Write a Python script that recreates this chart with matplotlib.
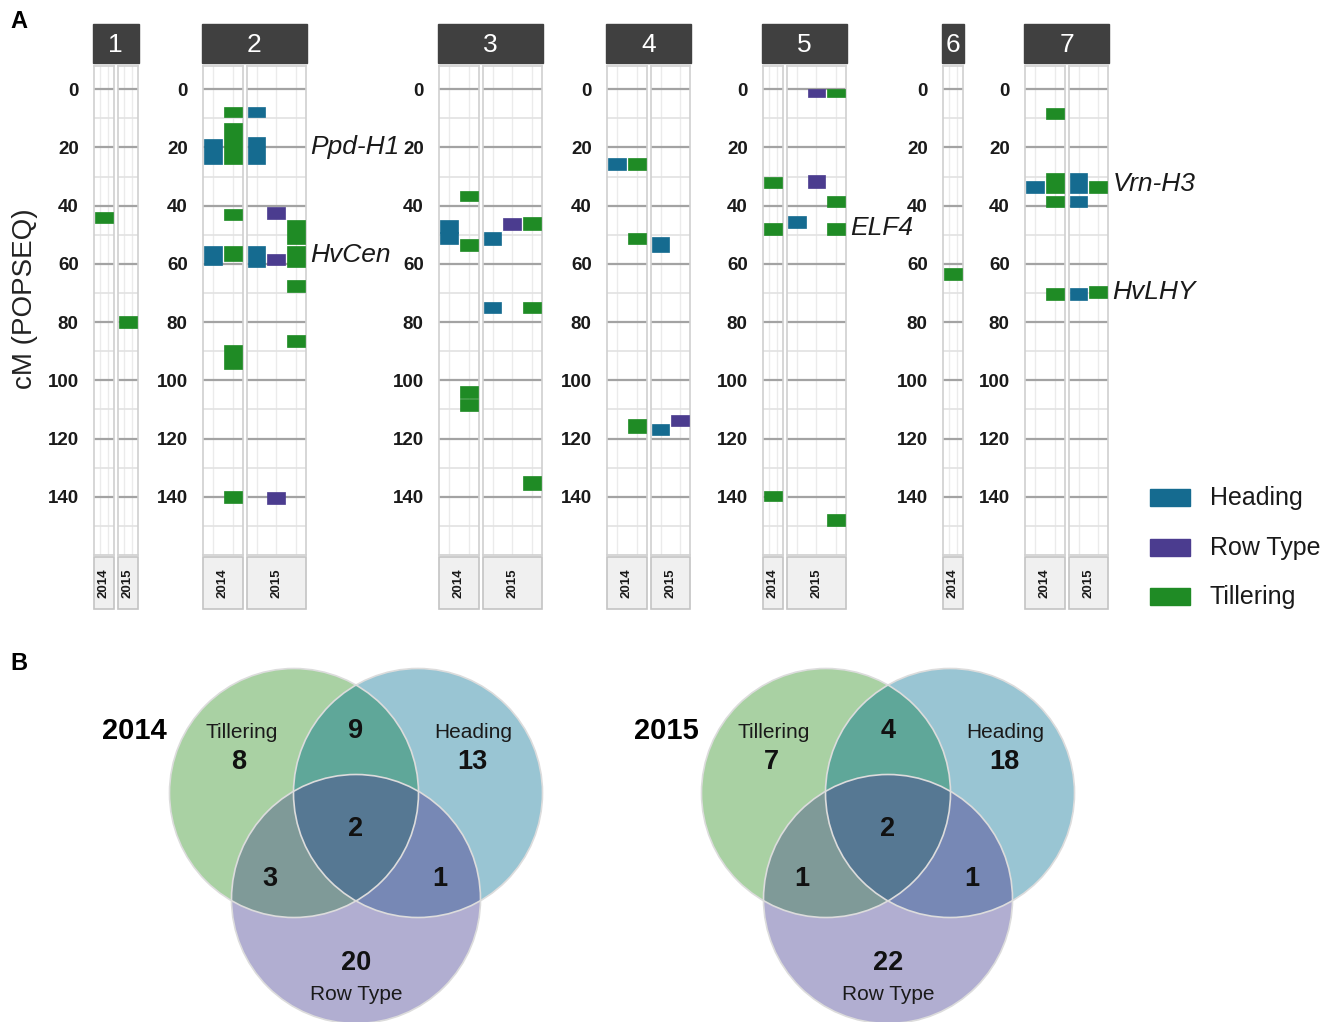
"""
QTL map per chromosome (2014 / 2015) and Venn summary of trait overlaps.
"""

import numpy as np
import matplotlib
matplotlib.use("Agg")
import matplotlib.pyplot as plt
from matplotlib.patches import Rectangle, Circle, Polygon

plt.rcParams['font.family'] = ['Liberation Sans', 'DejaVu Sans']

# ---- QTL intervals (cM, POPSEQ) ----
traits = ["Heading", "Row Type", "Tillering"]
trait_colors = {"Heading": "#156b90", "Row Type": "#4b3c8f", "Tillering": "#1f8b25"}

qtl_chrom = [1, 1,
             2, 2, 2, 2, 2, 2, 2, 2,
             2, 2, 2, 2, 2, 2, 2, 2, 2, 2,
             3, 3, 3, 3, 3, 3,
             3, 3, 3, 3, 3, 3,
             4, 4, 4, 4,
             4, 4, 4,
             5, 5, 5,
             5, 5, 5, 5, 5, 5, 5,
             6,
             7, 7, 7, 7, 7,
             7, 7, 7, 7, 7]
qtl_year = [2014, 2015,
            2014, 2014, 2014, 2014, 2014, 2014, 2014, 2014,
            2015, 2015, 2015, 2015, 2015, 2015, 2015, 2015, 2015, 2015,
            2014, 2014, 2014, 2014, 2014, 2014,
            2015, 2015, 2015, 2015, 2015, 2015,
            2014, 2014, 2014, 2014,
            2015, 2015, 2015,
            2014, 2014, 2014,
            2015, 2015, 2015, 2015, 2015, 2015, 2015,
            2014,
            2014, 2014, 2014, 2014, 2014,
            2015, 2015, 2015, 2015, 2015]
qtl_trait = ["Tillering", "Tillering",
             "Heading", "Heading", "Tillering", "Tillering", "Tillering", "Tillering", "Tillering", "Tillering",
             "Heading", "Heading", "Heading", "Row Type", "Row Type", "Row Type",
             "Tillering", "Tillering", "Tillering", "Tillering",
             "Heading", "Heading", "Tillering", "Tillering", "Tillering", "Tillering",
             "Heading", "Heading", "Row Type", "Tillering", "Tillering", "Tillering",
             "Heading", "Tillering", "Tillering", "Tillering",
             "Heading", "Heading", "Row Type",
             "Tillering", "Tillering", "Tillering",
             "Heading", "Row Type", "Row Type", "Tillering", "Tillering", "Tillering", "Tillering",
             "Tillering",
             "Heading", "Tillering", "Tillering", "Tillering", "Tillering",
             "Heading", "Heading", "Heading", "Tillering", "Tillering"]
qtl_start = [42, 78,
             17, 54, 6, 11.5, 41, 54, 88, 138,
             6, 16.5, 54, 40.5, 56.5, 138.5, 45, 54, 65.5, 84.5,
             45, 49, 35, 51.5, 102, 106.5,
             49, 73, 44.3, 44, 73, 133,
             23.7, 23.7, 49.5, 113.3,
             50.7, 115, 112,
             30, 46, 138,
             43.6, 0, 29.6, 0, 36.5, 46, 146,
             61.5,
             31.4, 6.6, 28.6, 36.5, 68.3,
             28.6, 36.5, 68.3, 31.4, 67.6]
qtl_end = [46, 82,
           25.5, 60.5, 9.5, 25.5, 45, 59, 96, 142,
           9.5, 25.5, 61, 44.5, 60.5, 142.5, 53, 61, 69.5, 88.5,
           49.5, 53, 38.5, 55.5, 106, 110.5,
           53.5, 77, 48.4, 48.4, 77, 137.5,
           27.7, 27.7, 53.3, 118,
           55.8, 118.8, 115.7,
           34, 50, 141.6,
           47.5, 2.5, 33.8, 2.5, 40.4, 50, 150,
           65.5,
           35.5, 10.3, 35.5, 40.4, 72.3,
           35.5, 40.4, 72.3, 35.5, 71.7]

gene_chrom = [2, 2, 5, 7, 7]
gene_name = ["Ppd-H1", "HvCen", "ELF4", "Vrn-H3", "HvLHY"]
gene_pos = [19.8, 57, 47.8, 32.4, 69.6]

# ---- Venn counts ----
venn_years = ["2014", "2015"]
venn_t_only = [8, 7]
venn_h_only = [13, 18]
venn_r_only = [20, 22]
venn_th = [9, 4]
venn_tr = [3, 1]
venn_hr = [1, 1]
venn_thr = [2, 2]

# ---- layout (pixels) ----
FW, FH = 1323, 1022
chrom_left = {1: 94, 2: 203, 3: 439, 4: 607, 5: 763, 6: 943, 7: 1025}
CW = 19.8          # width of one trait column
YEAR_GAP = 4
PANEL_TOP, PANEL_BOT = 66, 555
YMIN, YMAX = -8, 160


def fig_rect(x0, y0, x1, y1):
    return [x0 / FW, 1 - y1 / FH, (x1 - x0) / FW, (y1 - y0) / FH]


qtl_chrom = np.array(qtl_chrom)
qtl_year = np.array(qtl_year)
qtl_trait = np.array(qtl_trait)
qtl_start = np.array(qtl_start, dtype=float)
qtl_end = np.array(qtl_end, dtype=float)

fig = plt.figure(figsize=(FW / 100, FH / 100), dpi=100)
ov = fig.add_axes([0, 0, 1, 1])
ov.set_xlim(0, FW)
ov.set_ylim(FH, 0)
ov.axis('off')

ov.text(10, 21, "A", fontsize=17, fontweight='bold', va='center', ha='left')
ov.text(10, 663, "B", fontsize=17, fontweight='bold', va='center', ha='left')
ov.text(25, 299, "cM (POPSEQ)", fontsize=20, rotation=90, va='center', ha='center',
        color='#222222')

for chrom in sorted(chrom_left):
    sel_c = qtl_chrom == chrom
    years = sorted(set(qtl_year[sel_c]))
    x = chrom_left[chrom]
    panel_axes = []
    for yi, year in enumerate(years):
        sel = sel_c & (qtl_year == year)
        present = [t for t in traits if t in set(qtl_trait[sel])]
        w = CW * len(present)
        ax = fig.add_axes(fig_rect(x, PANEL_TOP, x + w, PANEL_BOT))
        ax.set_xlim(0.5, len(present) + 0.5)
        ax.set_ylim(YMAX, YMIN)
        ax.set_axisbelow(True)

        for i in np.where(sel)[0]:
            xi = present.index(qtl_trait[i]) + 1
            ax.bar(xi, qtl_end[i] - qtl_start[i], bottom=qtl_start[i], width=0.9,
                   color=trait_colors[qtl_trait[i]], edgecolor=trait_colors[qtl_trait[i]],
                   linewidth=0.5, zorder=3)

        ax.set_yticks(np.arange(0, 141, 20))
        ax.set_yticks(np.arange(10, 151, 20), minor=True)
        if len(present) == 1:
            ax.set_xticks([0.8, 1.2])
        else:
            ax.set_xticks(np.arange(1, len(present) + 1))
        ax.grid(which='major', axis='y', color='#a3a3a3', lw=1.6)
        ax.grid(which='minor', axis='y', color='#e2e2e2', lw=1.2)
        ax.grid(which='major', axis='x', color='#ebebeb', lw=1.0)
        ax.tick_params(axis='both', which='both', length=0)
        ax.set_xticklabels([])
        if yi == 0:
            ax.set_yticklabels([str(v) for v in range(0, 141, 20)],
                               fontsize=13.5, fontweight='bold', color='#1a1a1a')
            ax.tick_params(axis='y', pad=11)
        else:
            ax.set_yticklabels([])
        for s in ax.spines.values():
            s.set_color('#d0d0d0')
            s.set_linewidth(1.2)

        # year strip below the panel
        ov.add_patch(Rectangle((x, 557), w, 52, facecolor='#f0f0f0',
                               edgecolor='#c4c4c4', lw=1.2))
        ov.text(x + w / 2, 583, str(year), rotation=90, fontsize=9.5,
                fontweight='bold', ha='center', va='center', color='#1a1a1a')
        panel_axes.append(ax)
        x_end = x + w
        x = x_end + YEAR_GAP

    # chromosome strip on top
    x0 = chrom_left[chrom] - 1
    ov.add_patch(Rectangle((x0, 24), x_end + 1 - x0, 39, facecolor='#404040',
                           edgecolor='#404040'))
    ov.text((x0 + x_end + 1) / 2, 45, str(chrom), fontsize=19, color='white',
            ha='center', va='center')

    last_ax = panel_axes[-1]
    for g_c, g_n, g_p in zip(gene_chrom, gene_name, gene_pos):
        if g_c == chrom:
            last_ax.annotate(g_n, xy=(1, g_p), xycoords=('axes fraction', 'data'),
                             xytext=(3, 0), textcoords='offset points',
                             fontsize=19, style='italic', ha='left', va='center',
                             color='#1a1a1a', annotation_clip=False)

# legend
for k, t in enumerate(traits):
    yc = 498 + k * 49.5
    ov.add_patch(Rectangle((1150, yc - 8.5), 40, 17, facecolor=trait_colors[t],
                           edgecolor=trait_colors[t]))
    ov.text(1210, yc, t, fontsize=18, va='center', ha='left', color='#1a1a1a')

# ---- Venn diagrams ----
R = 124.5
region_colors = {"T": "#a9d1a3", "H": "#99c5d3", "R": "#b1aed1",
                 "TH": "#5fa799", "TR": "#7f9a98", "HR": "#7788b5", "THR": "#567893"}


def intersection(circles, n=1440):
    pts = []
    for j, (cx, cy) in enumerate(circles):
        t = np.linspace(0, 2 * np.pi, n, endpoint=False)
        p = np.column_stack([cx + R * np.cos(t), cy + R * np.sin(t)])
        keep = np.ones(len(p), dtype=bool)
        for k, (ox, oy) in enumerate(circles):
            if k != j:
                keep &= np.hypot(p[:, 0] - ox, p[:, 1] - oy) <= R + 1e-6
        pts.append(p[keep])
    pts = np.vstack(pts)
    c = pts.mean(axis=0)
    order = np.argsort(np.arctan2(pts[:, 1] - c[1], pts[:, 0] - c[0]))
    return pts[order]


for v, year in enumerate(venn_years):
    dx = 532 * v
    cT = (294 + dx, 793)
    cH = (418 + dx, 793)
    cR = (356 + dx, 899)
    ov.add_patch(Circle(cT, R, facecolor=region_colors["T"], edgecolor='none'))
    ov.add_patch(Circle(cH, R, facecolor=region_colors["H"], edgecolor='none'))
    ov.add_patch(Circle(cR, R, facecolor=region_colors["R"], edgecolor='none'))
    for key, cs in [("TH", [cT, cH]), ("TR", [cT, cR]), ("HR", [cH, cR]),
                    ("THR", [cT, cH, cR])]:
        ov.add_patch(Polygon(intersection(cs), closed=True,
                             facecolor=region_colors[key], edgecolor='none'))
    for c in (cT, cH, cR):
        ov.add_patch(Circle(c, R, facecolor='none', edgecolor='#dcdcdc', lw=1.2))

    ov.text(134 + dx, 731, year, fontsize=21, fontweight='bold', ha='center', va='center')
    ov.text(242 + dx, 733, "Tillering", fontsize=15, ha='center', va='center', color='#1a1a1a')
    ov.text(473 + dx, 733, "Heading", fontsize=15, ha='center', va='center', color='#1a1a1a')
    ov.text(356 + dx, 995, "Row Type", fontsize=15, ha='center', va='center', color='#1a1a1a')
    for val, (px, py) in [(venn_t_only[v], (239, 762)), (venn_h_only[v], (472, 762)),
                          (venn_r_only[v], (356, 963)), (venn_th[v], (356, 731)),
                          (venn_tr[v], (270, 879)), (venn_hr[v], (440, 879)),
                          (venn_thr[v], (356, 829))]:
        ov.text(px + dx, py, str(val), fontsize=19.5, fontweight='bold',
                ha='center', va='center', color='#111111')

fig.savefig("out.png", dpi=100, facecolor='white')
